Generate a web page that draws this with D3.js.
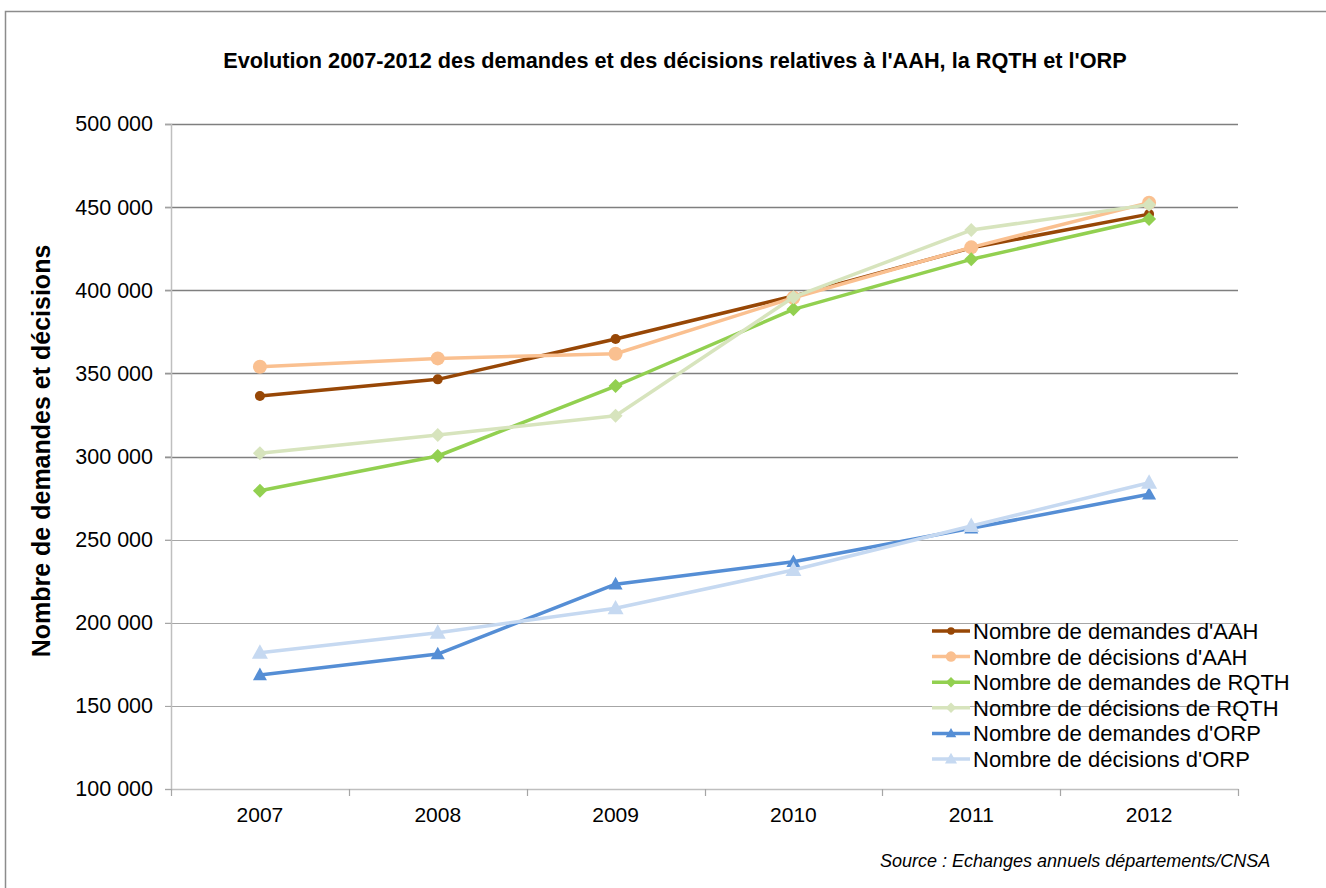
<!DOCTYPE html>
<html>
<head>
<meta charset="utf-8">
<script src="https://cdn.jsdelivr.net/npm/d3@7"></script>
<style>
  body { margin: 0; background: #fff; }
  svg { display: block; font-family: "Liberation Sans", Arial, sans-serif; }
</style>
</head>
<body>
<svg id="chart" width="1326" height="888"></svg>
<script>
// data
const years = ["2007", "2008", "2009", "2010", "2011", "2012"];
const demandesAAH = [336400, 346400, 370700, 396500, 425500, 445800];
const decisionsAAH = [354000, 359000, 361800, 395500, 425800, 452700];
const demandesRQTH = [279400, 300300, 342400, 388500, 418600, 442900];
const decisionsRQTH = [302000, 312900, 324500, 395800, 436200, 451500];
const demandesORP = [168600, 181200, 223200, 236700, 256800, 277300];
const decisionsORP = [182000, 194000, 208700, 231700, 258200, 284200];
const yTicks = [100000, 150000, 200000, 250000, 300000, 350000, 400000, 450000, 500000];

const series = [
  { name: "Nombre de demandes d'AAH", values: demandesAAH, color: "#974706", width: 3.5, shape: "circle", size: 5 },
  { name: "Nombre de décisions d'AAH", values: decisionsAAH, color: "#fac090", width: 3.5, shape: "circle", size: 7 },
  { name: "Nombre de demandes de RQTH", values: demandesRQTH, color: "#92d050", width: 3.5, shape: "diamond", size: 7 },
  { name: "Nombre de décisions de RQTH", values: decisionsRQTH, color: "#d7e4bd", width: 3.5, shape: "diamond", size: 7 },
  { name: "Nombre de demandes d'ORP", values: demandesORP, color: "#558ed5", width: 3.5, shape: "triangle", size: 7 },
  { name: "Nombre de décisions d'ORP", values: decisionsORP, color: "#c6d9f1", width: 3.5, shape: "triangle", size: 8 }
];

const svg = d3.select("#chart");
const plotLeft = 171, plotRight = 1238, plotTop = 124, plotBottom = 789;

// outer frame
svg.append("path")
  .attr("d", "M5.5,900 L5.5,11.5 L1330,11.5")
  .attr("fill", "none").attr("stroke", "#8c8c8c").attr("stroke-width", 1.5);

const x = d3.scaleBand().domain(years).range([plotLeft, plotRight]);
const y = d3.scaleLinear().domain([100000, 500000]).range([plotBottom, plotTop]);

const fmt = v => d3.format(",")(v).replace(/,/g, " ");

// gridlines
svg.append("g").selectAll("line")
  .data(yTicks.filter(d => d > 100000))
  .join("line")
  .attr("x1", plotLeft - 6).attr("x2", plotRight)
  .attr("y1", d => Math.round(y(d)) + 0.5).attr("y2", d => Math.round(y(d)) + 0.5)
  .attr("stroke", d => d >= 300000 ? "#7f7f7f" : "#a6a6a6")
  .attr("stroke-width", d => d >= 300000 ? 1.6 : 1.2);

// y axis
const yAxis = svg.append("g")
  .attr("transform", `translate(${plotLeft},0)`)
  .call(d3.axisLeft(y).tickValues(yTicks).tickFormat(fmt).tickSize(6).tickPadding(12));
yAxis.select(".domain").attr("stroke", "#bfbfbf").attr("stroke-width", 1.5);
yAxis.selectAll(".tick line").attr("stroke", "#a6a6a6");
yAxis.selectAll("text").attr("font-size", 21.5).attr("fill", "#000")
  .attr("font-family", "Liberation Sans, Arial, sans-serif");

// x axis
const xAxis = svg.append("g")
  .attr("transform", `translate(0,${plotBottom})`)
  .call(d3.axisBottom(x).tickSize(0).tickPadding(18));
xAxis.select(".domain").attr("stroke", "#bfbfbf").attr("stroke-width", 1.5);
xAxis.selectAll("text").attr("font-size", 21).attr("fill", "#000")
  .attr("font-family", "Liberation Sans, Arial, sans-serif");
// tick marks between categories
const bounds = years.map(d => x(d)).concat([x(years[years.length - 1]) + x.bandwidth()]);
xAxis.selectAll(".sep").data(bounds).join("line")
  .attr("class", "sep")
  .attr("x1", d => Math.round(d) + 0.5).attr("x2", d => Math.round(d) + 0.5)
  .attr("y1", 0).attr("y2", 7)
  .attr("stroke", "#a6a6a6").attr("stroke-width", 1.2);

// lines and markers
const cx = d => x(d) + x.bandwidth() / 2;
const line = d3.line().x((v, i) => cx(years[i])).y(v => y(v));

function marker(sel, s) {
  if (s.shape === "circle") {
    sel.append("circle").attr("r", s.size).attr("fill", s.color);
  } else if (s.shape === "diamond") {
    const r = s.size;
    sel.append("path").attr("d", `M0,${-r}L${r},0L0,${r}L${-r},0Z`).attr("fill", s.color);
  } else {
    const r = s.size;
    sel.append("path").attr("d", `M0,${-r * 1.05}L${r},${r * 0.75}L${-r},${r * 0.75}Z`).attr("fill", s.color);
  }
}

series.forEach(s => {
  const g = svg.append("g");
  g.append("path").datum(s.values)
    .attr("d", line)
    .attr("fill", "none")
    .attr("stroke", s.color)
    .attr("stroke-width", s.width)
    .attr("stroke-linejoin", "round");
  s.values.forEach((v, i) => {
    const m = g.append("g").attr("transform", `translate(${cx(years[i])},${y(v)})`);
    marker(m, s);
  });
});

// title
svg.append("text")
  .attr("x", 675).attr("y", 68)
  .attr("text-anchor", "middle")
  .attr("font-size", 21.7).attr("font-weight", "bold")
  .text("Evolution 2007-2012 des demandes et des décisions relatives à l'AAH, la RQTH et l'ORP");

// y axis title
svg.append("text")
  .attr("transform", "translate(50,451) rotate(-90)")
  .attr("text-anchor", "middle")
  .attr("font-size", 25).attr("font-weight", "bold")
  .text("Nombre de demandes et décisions");

// legend
const legend = svg.append("g").attr("transform", "translate(932,631)");
series.forEach((s, i) => {
  const g = legend.append("g").attr("transform", `translate(0,${i * 25.6})`);
  g.append("line").attr("x1", 0).attr("x2", 38).attr("y1", 0).attr("y2", 0)
    .attr("stroke", s.color).attr("stroke-width", s.width);
  const m = g.append("g").attr("transform", "translate(19,0)");
  marker(m, Object.assign({}, s, { size: s.size * 0.75 }));
  g.append("text").attr("x", 41).attr("y", 8)
    .attr("font-size", 22).attr("fill", "#000")
    .text(s.name);
});

// source
svg.append("text")
  .attr("x", 880).attr("y", 867)
  .attr("font-size", 18).attr("font-style", "italic")
  .text("Source : Echanges annuels départements/CNSA");
</script>
</body>
</html>
